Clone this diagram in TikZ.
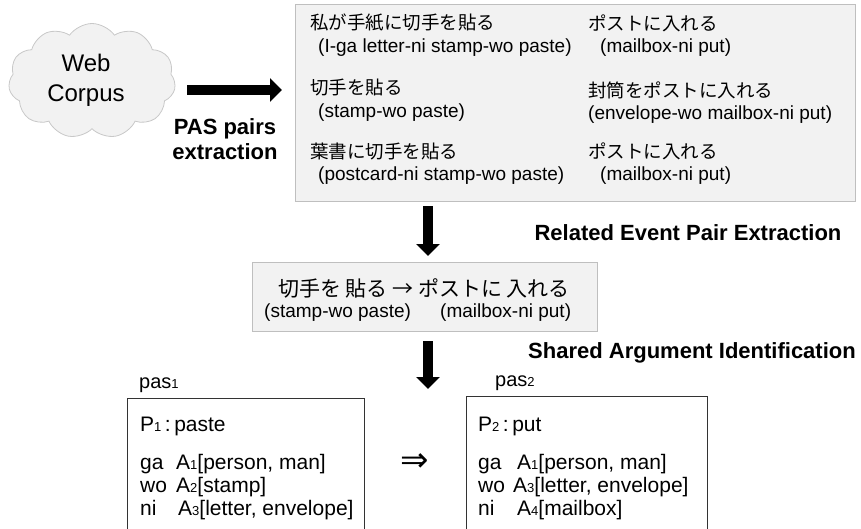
\documentclass[tikz,border=0pt]{standalone}
\usepackage{fontspec}
\setmainfont{Liberation Sans}
\newfontfamily\jp{Noto Sans CJK JP}
\newfontfamily\dvs{DejaVu Sans}
\usetikzlibrary{shapes.symbols,arrows.meta}
\definecolor{boxfill}{HTML}{F2F2F2}
\definecolor{boxline}{HTML}{BFBFBF}
\definecolor{cloudline}{HTML}{C8C8C8}
\newcommand\smallnum[1]{{\fontsize{13}{13}\selectfont #1}}
\tikzset{
  graybox/.style={draw=boxline, fill=boxfill, line width=1pt},
  pasbox/.style={draw=black!80, line width=0.9pt},
  txt/.style={inner sep=0pt, anchor=west, font=\fontsize{19}{19}\selectfont},
  ptxt/.style={inner sep=0pt, anchor=base west, font=\fontsize{21}{21}\selectfont},
  jtxt/.style={inner sep=0pt, anchor=west, font=\jp\fontsize{18.5}{18.5}\selectfont},
  lbl/.style={inner sep=0pt, font=\bfseries\fontsize{22}{25}\selectfont, align=center},
  blockarrow/.style={line width=10pt, -{Triangle[length=12pt,width=23pt]}},
}
\begin{document}
\begin{tikzpicture}[x=1pt,y=-1pt]
\clip (0,0) rectangle (861,528);
\useasboundingbox (0,0) rectangle (861,528);
% cloud
\node[cloud, cloud puffs=11, cloud puff arc=110, aspect=1.5, draw=cloudline, fill=boxfill, line width=0.8pt,
      minimum width=167pt, minimum height=115pt, inner sep=0pt] (cloud) at (92,81) {};
\node[inner sep=0pt, align=center, font=\fontsize{24}{30}\selectfont] (webtxt) at (86,80) {Web\\Corpus};
% arrow 1
\coordinate (a1s) at (187,90);
\coordinate (a1e) at (282,90);
\draw[blockarrow] (a1s) -- (a1e);
\node[lbl] (pasl) at (225,139) {PAS pairs\\extraction};
% big box
\node[graybox, minimum width=560pt, minimum height=197pt, inner sep=0pt] (big) at (575,102.5) {};
\node[jtxt] (j1) at (310,23) {私が手紙に切手を貼る};
\node[txt] (e1) at (318,48) {(I-ga letter-ni stamp-wo paste)};
\node[jtxt] (j2) at (310,88) {切手を貼る};
\node[txt] (e2) at (318,113) {(stamp-wo paste)};
\node[jtxt] (j3) at (310,151) {葉書に切手を貼る};
\node[txt] (e3) at (318,176) {(postcard-ni stamp-wo paste)};
\node[jtxt] (k1) at (588,23) {ポストに入れる};
\node[txt] (f1) at (600,48) {(mailbox-ni put)};
\node[jtxt] (k2) at (588,90) {封筒をポストに入れる};
\node[txt] (f2) at (588,115) {(envelope-wo mailbox-ni put)};
\node[jtxt] (k3) at (588,151) {ポストに入れる};
\node[txt] (f3) at (600,176) {(mailbox-ni put)};
% arrow 2
\coordinate (a2s) at (428,206);
\coordinate (a2e) at (428,256);
\draw[blockarrow] (a2s) -- (a2e);
\node[lbl] (rel) at (688,233) {Related Event Pair Extraction};
% small box
\node[graybox, minimum width=345pt, minimum height=69pt, inner sep=0pt] (small) at (424.5,296.5) {};
\node[inner sep=0pt, font=\jp\fontsize{21}{21}\selectfont] (sj) at (424,288) {切手を 貼る → ポストに 入れる};
\node[txt] (se1) at (264,313) {(stamp-wo paste)};
\node[txt] (se2) at (440,313) {(mailbox-ni put)};
% arrow 3
\coordinate (a3s) at (428,341);
\coordinate (a3e) at (428,389);
\draw[blockarrow] (a3s) -- (a3e);
\node[lbl] (sha) at (692,353) {Shared Argument Identification};
% pas boxes
\node[ptxt, font=\fontsize{20}{20}\selectfont] (p1l) at (139,388) {pas\smallnum{1}};
\node[ptxt, font=\fontsize{20}{20}\selectfont] (p2l) at (495,386) {pas\smallnum{2}};
\draw[pasbox] (127,540) -- (127,398) -- (364,398) -- (364,540);
\draw[pasbox] (466,540) -- (466,396) -- (707,396) -- (707,540);
\node[ptxt] (p1h) at (140,431) {P\smallnum{1}\,:\,paste};
\node[ptxt] (p1a) at (140,469) {ga};
\node[ptxt] (p1b) at (140,492) {wo};
\node[ptxt] (p1c) at (140,515) {ni};
\node[ptxt] (p1A) at (176,469) {A\smallnum{1}[person, man]};
\node[ptxt] (p1B) at (176,492) {A\smallnum{2}[stamp]};
\node[ptxt] (p1C) at (178,515) {A\smallnum{3}[letter, envelope]};
\node[inner sep=0pt, font=\dvs\fontsize{34}{34}\selectfont] (impl) at (415,463) {⇒};
\node[ptxt] (p2h) at (478,431) {P\smallnum{2}\,:\,put};
\node[ptxt] (p2a) at (478,469) {ga};
\node[ptxt] (p2b) at (478,492) {wo};
\node[ptxt] (p2c) at (478,515) {ni};
\node[ptxt] (p2A) at (517,469) {A\smallnum{1}[person, man]};
\node[ptxt] (p2B) at (513,492) {A\smallnum{3}[letter, envelope]};
\node[ptxt] (p2C) at (517,515) {A\smallnum{4}[mailbox]};
\end{tikzpicture}
\end{document}
